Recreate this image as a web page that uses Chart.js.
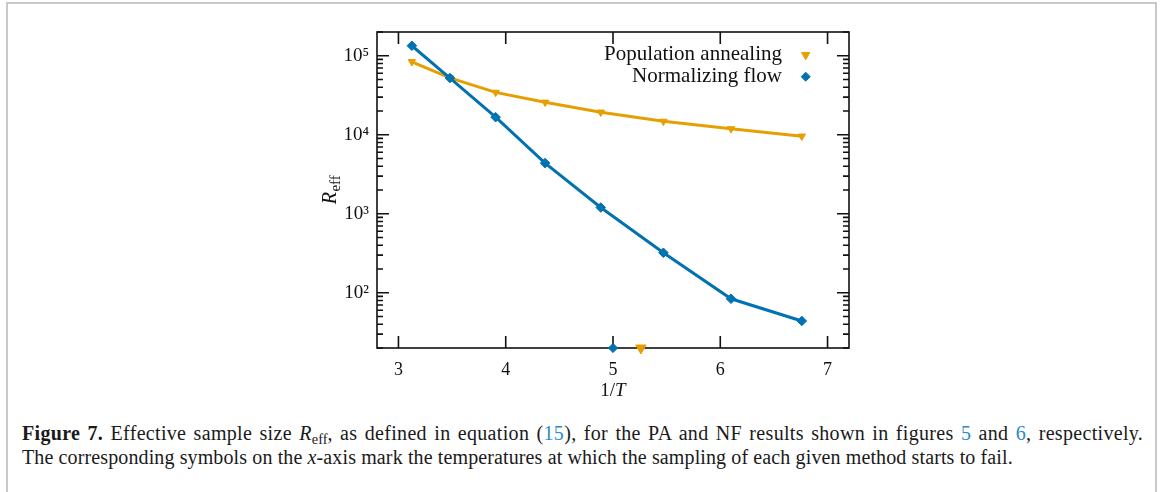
<!DOCTYPE html>
<html><head><meta charset="utf-8">
<script src="https://cdn.jsdelivr.net/npm/chart.js@4.4.0/dist/chart.umd.min.js"></script>
<style>
html,body{margin:0;padding:0;background:#fff;width:1167px;height:492px;overflow:hidden;}
#frame{position:absolute;left:6px;top:2px;width:1147px;height:520px;border:2px solid #c9c9c9;border-bottom:none;}
#wrap{position:absolute;left:300px;top:0;width:580px;height:400px;}
#caption{position:absolute;left:22px;top:422px;font-family:"Liberation Serif",serif;font-size:20px;line-height:22px;color:#1a1a1a;white-space:nowrap;}
#caption .l1{letter-spacing:0.32px;word-spacing:2px;}
#caption .l2{letter-spacing:0.12px;}
#caption .lk{color:#2a8ac8}
#caption sub{font-size:0.72em;vertical-align:baseline;position:relative;top:0.28em;letter-spacing:0;}
</style></head><body>
<div id="frame"></div>
<div id="wrap"><canvas id="c"></canvas></div>
<div id="caption"><span class="l1"><b>Figure 7.</b> Effective sample size <i>R</i><sub>eff</sub>, as defined in equation (<span class="lk">15</span>), for the PA and NF results shown in figures <span class="lk">5</span> and <span class="lk">6</span>, respectively.</span><br><span class="l2">The corresponding symbols on the <i>x</i>-axis mark the temperatures at which the sampling of each given method starts to fail.</span></div>
<script>
// ---- data ----
const invT = [3.125, 3.48, 3.906, 4.367, 4.886, 5.47, 6.10, 6.76];
const paReff = [84000, 52500, 34400, 25800, 19300, 14800, 11900, 9600];
const nfReff = [134000, 52300, 16700, 4380, 1200, 321, 84, 44];
const paFailInvT = [5.26];
const nfFailInvT = [5.0];
const xTickValues = [3, 4, 5, 6, 7];
const yTickValues = [1e2, 1e3, 1e4, 1e5];
const seriesLabels = ['Population annealing', 'Normalizing flow'];

const ORANGE = '#E69F00', BLUE = '#0072B2';
const FONT = '"Liberation Serif", serif';
const SUP = {'0':'⁰','1':'¹','2':'²','3':'³','4':'⁴','5':'⁵','6':'⁶','7':'⁷','8':'⁸','9':'⁹'};
const supStr = n => String(n).split('').map(c => SUP[c]).join('');

const framePlugin = {
  id: 'frameTicks',
  beforeDatasetsDraw(chart) {
    const {ctx, chartArea: a, scales: {x, y}} = chart;
    ctx.save();
    ctx.strokeStyle = '#111';
    ctx.lineWidth = 1.6;
    ctx.strokeRect(a.left, a.top, a.right - a.left, a.bottom - a.top);
    ctx.beginPath();
    xTickValues.forEach(v => {
      const p = x.getPixelForValue(v);
      ctx.moveTo(p, a.bottom); ctx.lineTo(p, a.bottom - 12);
      ctx.moveTo(p, a.top); ctx.lineTo(p, a.top + 12);
    });
    const lo = Math.floor(Math.log10(y.min)), hi = Math.ceil(Math.log10(y.max));
    for (let e = lo; e <= hi; e++) {
      for (let k = 1; k <= 9; k++) {
        const v = k * Math.pow(10, e);
        if (v < y.min * 0.999 || v > y.max * 1.001) continue;
        const len = k === 1 ? 12 : 6;
        const p = y.getPixelForValue(v);
        ctx.moveTo(a.left, p); ctx.lineTo(a.left + len, p);
        ctx.moveTo(a.right, p); ctx.lineTo(a.right - len, p);
      }
    }
    ctx.stroke();
    ctx.restore();
  },
  afterDraw(chart) {
    const {ctx, chartArea: a} = chart;
    ctx.save();
    ctx.fillStyle = '#111';
    // x title: 1/T
    const cx = (a.left + a.right) / 2;
    ctx.textBaseline = 'alphabetic';
    ctx.font = '19px ' + FONT;
    const w1 = ctx.measureText('1/').width;
    ctx.font = 'italic 19px ' + FONT;
    const w2 = ctx.measureText('T').width;
    let sx = cx - (w1 + w2) / 2;
    ctx.font = '19px ' + FONT;
    ctx.textAlign = 'left';
    ctx.fillText('1/', sx, 396);
    ctx.font = 'italic 19px ' + FONT;
    ctx.fillText('T', sx + w1, 396);
    // y title: R_eff
    ctx.save();
    ctx.translate(36, (a.top + a.bottom) / 2);
    ctx.rotate(-Math.PI / 2);
    ctx.font = 'italic 20px ' + FONT;
    const rw = ctx.measureText('R').width;
    ctx.font = '15px ' + FONT;
    const ew = ctx.measureText('eff').width;
    const tx = -(rw + ew) / 2;
    ctx.font = 'italic 20px ' + FONT;
    ctx.fillText('R', tx, 0);
    ctx.font = '15px ' + FONT;
    ctx.fillText('eff', tx + rw + 0.5, 4);
    ctx.restore();
    // legend
    const items = [
      {label: seriesLabels[0], color: ORANGE, style: 'triangle', rot: 180, r: 4.8, base: 60, my: 55},
      {label: seriesLabels[1], color: BLUE, style: 'rectRot', rot: 0, r: 4.5, base: 82, my: 76.7}
    ];
    ctx.font = '21px ' + FONT;
    ctx.textAlign = 'right';
    items.forEach(it => {
      ctx.fillStyle = '#111';
      ctx.fillText(it.label, 482, it.base);
      ctx.fillStyle = it.color; ctx.strokeStyle = it.color; ctx.lineWidth = 1;
      Chart.helpers.drawPoint(ctx, {pointStyle: it.style, rotation: it.rot, radius: it.r, borderWidth: 1}, 505.7, it.my);
    });
    ctx.restore();
  }
};

const toPts = (xs, ys) => xs.map((x, i) => ({x, y: ys[i]}));

new Chart(document.getElementById('c'), {
  type: 'line',
  data: {
    datasets: [
      {label: seriesLabels[1], data: toPts(invT, nfReff), borderColor: BLUE, backgroundColor: BLUE,
       borderWidth: 3, pointStyle: 'rectRot', pointRadius: 4.8, pointBorderWidth: 1, order: 1, tension: 0},
      {label: seriesLabels[0], data: toPts(invT, paReff), borderColor: ORANGE, backgroundColor: ORANGE,
       borderWidth: 3, pointStyle: 'triangle', pointRotation: 180, pointRadius: 4.3, pointBorderWidth: 1, order: 2, tension: 0},
      {label: 'NF fail', data: nfFailInvT.map(x => ({x, y: 20})), showLine: false, borderColor: BLUE, backgroundColor: BLUE,
       pointStyle: 'rectRot', pointRadius: 4.6, pointBorderWidth: 1, clip: false, order: 0},
      {label: 'PA fail', data: paFailInvT.map(x => ({x, y: 20})), showLine: false, borderColor: ORANGE, backgroundColor: ORANGE,
       pointStyle: 'triangle', pointRotation: 180, pointRadius: 6, pointBorderWidth: 1, clip: false, order: 0}
    ]
  },
  options: {
    responsive: true, maintainAspectRatio: false, animation: false, events: [],
    layout: {padding: {top: 32, right: 31, left: 0, bottom: 0}},
    plugins: {legend: {display: false}, tooltip: {enabled: false}},
    scales: {
      x: {
        type: 'linear', min: 2.8, max: 7.2,
        afterBuildTicks: s => { s.ticks = xTickValues.map(v => ({value: v})); },
        afterFit: s => { s.height = 52; },
        grid: {display: false, drawTicks: false, tickLength: 0},
        border: {display: false},
        ticks: {font: {family: FONT, size: 18}, color: '#111', padding: 11, autoSkip: false, maxRotation: 0,
                callback: v => String(v)}
      },
      y: {
        type: 'logarithmic', min: 20, max: 2e5,
        afterBuildTicks: s => { s.ticks = yTickValues.map(v => ({value: v})); },
        afterFit: s => { s.width = 77; },
        grid: {display: false, drawTicks: false, tickLength: 0},
        border: {display: false},
        ticks: {font: {family: FONT, size: 19}, color: '#111', padding: 8, autoSkip: false,
                callback: v => '10' + supStr(Math.round(Math.log10(v)))}
      }
    }
  },
  plugins: [framePlugin]
});
</script>
</body></html>
